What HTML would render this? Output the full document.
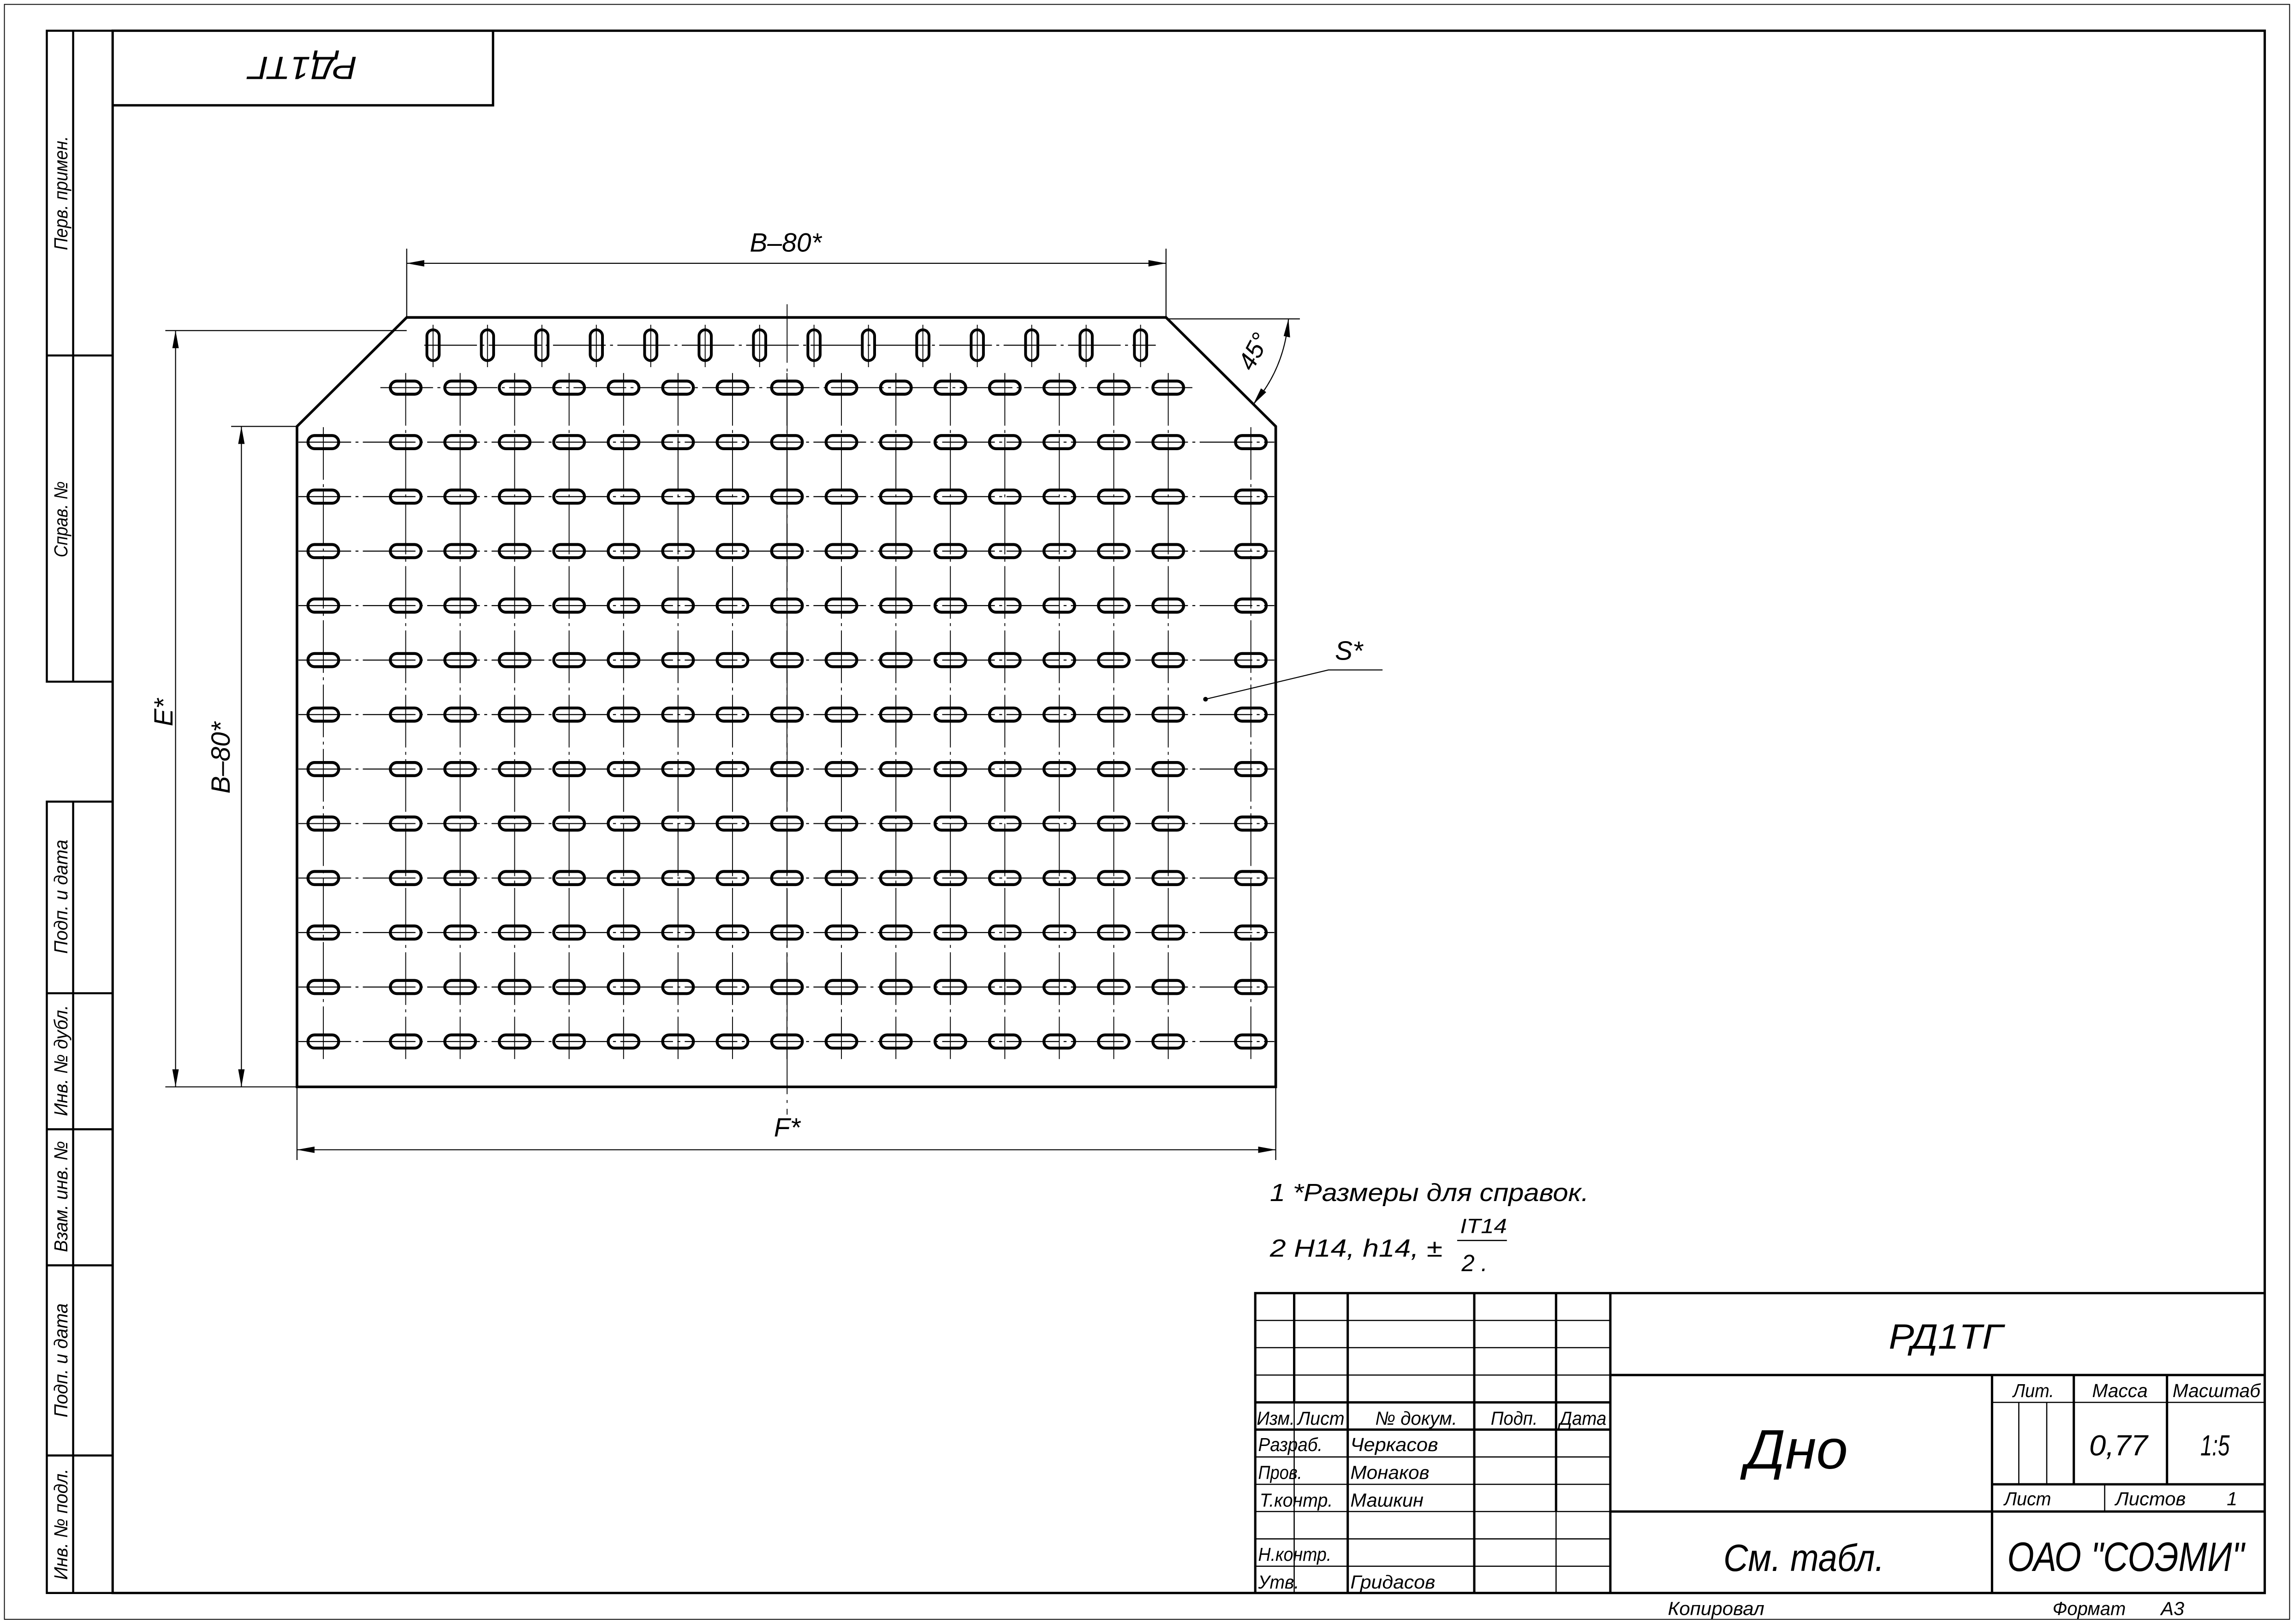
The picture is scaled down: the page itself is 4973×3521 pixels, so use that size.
<!DOCTYPE html>
<html><head><meta charset="utf-8">
<style>
html,body{margin:0;padding:0;background:#fff;}
svg{display:block;}
text{font-family:"Liberation Sans",sans-serif;font-style:italic;fill:#000;}
</style></head>
<body>
<svg id="s" xmlns="http://www.w3.org/2000/svg" width="4973" height="3521" viewBox="0 0 1568 1110.2" preserveAspectRatio="none">
<rect x="0" y="0" width="1568" height="1110.2" fill="#fff"/>
<g fill="none" stroke="#000">
<rect x="3" y="3" width="1562" height="1104" stroke-width="0.6"/>
<rect x="77" y="21" width="1471" height="1068" stroke-width="1.6"/>
<path d="M77 21 H32 V466 H77 M32 243 H77 M50 21 V466" stroke-width="1.4"/>
<path d="M77 548 H32 V1089 H77 M32 679 H77 M32 772 H77 M32 865 H77 M32 995 H77 M50 548 V1089" stroke-width="1.4"/>
<path d="M77 72 H337 V21" stroke-width="1.6"/>
<path d="M278 217 H797 L872 291.5 V743 H203 V291.5 Z" stroke-width="1.8"/>
<g stroke-width="0.7">
<path d="M278 217 V170 M797 217 V170 M278 180 H797"/>
<path d="M797 218 H888.5"/>
<path d="M278 226 H113 M203 743 H113 M120 226 V743"/>
<path d="M203 291.5 H158 M165 291.5 V743"/>
<path d="M203 743 V793 M872 743 V793 M203 786 H872"/>
<path d="M880.7 218 Q878 252 856.6 276.5"/>
<path d="M824 478 L908 458 H945"/>
</g>
<g stroke-width="1.6">
<path d="M858 1089 V884 H1548"/>
<path d="M884.6 884 V958.7 M921.2 884 V1089 M1007.7 884 V1089 M1063.6 884 V1033.3 M1100.7 884 V1089"/>
<path d="M858 958.7 H1100.7 M858 977.3 H1100.7"/>
<path d="M1100.7 940 H1548 M1361.6 940 V1089 M1417.5 940 V1014.7 M1481.2 940 V1014.7 M1361.6 1014.7 H1548 M1100.7 1033.3 H1548"/>
</g>
<g stroke-width="0.8">
<path d="M858 902.7 H1100.7 M858 921.3 H1100.7 M858 940 H1100.7 M858 996 H1100.7 M858 1014.7 H1100.7 M858 1033.3 H1100.7 M858 1052 H1100.7 M858 1070.7 H1100.7"/>
<path d="M884.6 958.7 V977.3 M884.6 977.3 V1089 M1063.6 1033.3 V1089"/>
<path d="M1361.6 958.7 H1548 M1379.9 958.7 V1014.7 M1399 958.7 V1014.7 M1438.6 1014.7 V1033.3"/>
</g>
<g id="holes"></g>
</g>
<g fill="#000">
<path d="M278 180 l12 -2.2 v4.4 Z"/>
<path d="M797 180 l-12 -2.2 v4.4 Z"/>
<path d="M120 226 l-2.2 12 h4.4 Z"/>
<path d="M120 743 l-2.2 -12 h4.4 Z"/>
<path d="M165 291.5 l-2.2 12 h4.4 Z"/>
<path d="M165 743 l-2.2 -12 h4.4 Z"/>
<path d="M203 786 l12 -2.2 v4.4 Z"/>
<path d="M872 786 l-12 -2.2 v4.4 Z"/>
<path d="M880.7 218 l-3.3 11.7 l4.4 1 Z"/>
<path d="M856.6 276.5 l5.3 -11 l3.6 2.6 Z"/>
<circle cx="824" cy="478" r="1.6"/>
</g>
<g>
<text x="207" y="47" font-size="22" text-anchor="middle" transform="rotate(180 207 47) translate(0 8)" textLength="74" lengthAdjust="spacingAndGlyphs">РД1ТГ</text>
<text x="537" y="172" font-size="18" text-anchor="middle">B–80*</text>
<text x="538" y="777" font-size="18" text-anchor="middle">F*</text>
<text x="922" y="451" font-size="18" text-anchor="middle">S*</text>
<text transform="translate(118 487) rotate(-90)" font-size="18" text-anchor="middle">E*</text>
<text transform="translate(157 518) rotate(-90)" font-size="18" text-anchor="middle">B–80*</text>
<text transform="translate(862 243) rotate(-62)" font-size="17" text-anchor="middle">45°</text>
<text x="868" y="821" font-size="17" textLength="218" lengthAdjust="spacingAndGlyphs">1  *Размеры для справок.</text>
<text x="868" y="859" font-size="17" textLength="118" lengthAdjust="spacingAndGlyphs">2  H14, h14, ±</text>
<text x="998" y="843" font-size="14" textLength="32" lengthAdjust="spacingAndGlyphs">IT14</text>
<line x1="996" y1="848" x2="1030" y2="848" stroke="#000" stroke-width="0.8"/>
<text x="999" y="869" font-size="16">2 .</text>
<g font-size="13">
<text transform="translate(46 132) rotate(-90)" text-anchor="middle" textLength="78" lengthAdjust="spacingAndGlyphs">Перв. примен.</text>
<text transform="translate(46 355) rotate(-90)" text-anchor="middle" textLength="52" lengthAdjust="spacingAndGlyphs">Справ. №</text>
<text transform="translate(46 613) rotate(-90)" text-anchor="middle" textLength="78" lengthAdjust="spacingAndGlyphs">Подп. и дата</text>
<text transform="translate(46 725) rotate(-90)" text-anchor="middle" textLength="76" lengthAdjust="spacingAndGlyphs">Инв. № дубл.</text>
<text transform="translate(46 818) rotate(-90)" text-anchor="middle" textLength="76" lengthAdjust="spacingAndGlyphs">Взам. инв. №</text>
<text transform="translate(46 930) rotate(-90)" text-anchor="middle" textLength="78" lengthAdjust="spacingAndGlyphs">Подп. и дата</text>
<text transform="translate(46 1042) rotate(-90)" text-anchor="middle" textLength="76" lengthAdjust="spacingAndGlyphs">Инв. № подл.</text>
</g>
<text x="1330" y="922" font-size="24" text-anchor="middle" textLength="78" lengthAdjust="spacingAndGlyphs">РД1ТГ</text>
<text x="1228" y="1004" font-size="38" text-anchor="middle" textLength="70" lengthAdjust="spacingAndGlyphs">Дно</text>
<text x="1233" y="1074" font-size="26" text-anchor="middle" textLength="110" lengthAdjust="spacingAndGlyphs">См. табл.</text>
<text x="1453" y="1074" font-size="28" text-anchor="middle" textLength="162" lengthAdjust="spacingAndGlyphs">ОАО "СОЭМИ"</text>
<text x="1448" y="995" font-size="20" text-anchor="middle" textLength="40" lengthAdjust="spacingAndGlyphs">0,77</text>
<text x="1514" y="995" font-size="20" text-anchor="middle" textLength="20" lengthAdjust="spacingAndGlyphs">1:5</text>
<g font-size="13">
<text x="1390" y="955" text-anchor="middle" textLength="28" lengthAdjust="spacingAndGlyphs">Лит.</text>
<text x="1449" y="955" text-anchor="middle" textLength="38" lengthAdjust="spacingAndGlyphs">Масса</text>
<text x="1515" y="955" text-anchor="middle" textLength="60" lengthAdjust="spacingAndGlyphs">Масштаб</text>
<text x="1370" y="1029" textLength="32" lengthAdjust="spacingAndGlyphs">Лист</text>
<text x="1446" y="1029" textLength="48" lengthAdjust="spacingAndGlyphs">Листов</text>
<text x="1522" y="1029">1</text>
<text x="859" y="974" textLength="26" lengthAdjust="spacingAndGlyphs">Изм.</text>
<text x="887" y="974" textLength="32" lengthAdjust="spacingAndGlyphs">Лист</text>
<text x="940" y="974" textLength="56" lengthAdjust="spacingAndGlyphs">№ докум.</text>
<text x="1019" y="974" textLength="32" lengthAdjust="spacingAndGlyphs">Подп.</text>
<text x="1066" y="974" textLength="32" lengthAdjust="spacingAndGlyphs">Дата</text>
<text x="860" y="992" textLength="44" lengthAdjust="spacingAndGlyphs">Разраб.</text>
<text x="923" y="992" textLength="60" lengthAdjust="spacingAndGlyphs">Черкасов</text>
<text x="860" y="1011" textLength="30" lengthAdjust="spacingAndGlyphs">Пров.</text>
<text x="923" y="1011" textLength="54" lengthAdjust="spacingAndGlyphs">Монаков</text>
<text x="861" y="1030" textLength="50" lengthAdjust="spacingAndGlyphs">Т.контр.</text>
<text x="923" y="1030" textLength="50" lengthAdjust="spacingAndGlyphs">Машкин</text>
<text x="860" y="1067" textLength="50" lengthAdjust="spacingAndGlyphs">Н.контр.</text>
<text x="860" y="1086" textLength="28" lengthAdjust="spacingAndGlyphs">Утв.</text>
<text x="923" y="1086" textLength="58" lengthAdjust="spacingAndGlyphs">Гридасов</text>
<text x="1140" y="1104" textLength="66" lengthAdjust="spacingAndGlyphs">Копировал</text>
<text x="1403" y="1104" textLength="50" lengthAdjust="spacingAndGlyphs">Формат</text>
<text x="1477" y="1104" textLength="16" lengthAdjust="spacingAndGlyphs">А3</text>
</g>
</g>
</svg>
<script>
(function(){
var g=document.getElementById('holes');var NS='http://www.w3.org/2000/svg';
function el(t,a){var e=document.createElementNS(NS,t);for(var k in a)e.setAttribute(k,a[k]);g.appendChild(e);return e;}
var dash='36 3 2 3';
var cols=[];for(var i=0;i<15;i++)cols.push(277.3+i*37.23);
var all=[221].concat(cols).concat([855]);
var rows=[];for(var j=0;j<13;j++)rows.push(265+j*37.25);
all.forEach(function(x,i){var y0=(i==0||i==16)?292:255;el('line',{x1:x,y1:y0,x2:x,y2:724,'stroke-width':0.6,'stroke-dasharray':dash});});
el('line',{x1:538,y1:208,x2:538,y2:762,'stroke-width':0.6,'stroke-dasharray':'40 4 2 4'});
rows.forEach(function(y,j){if(j==0)el('line',{x1:260,y1:y,x2:815,y2:y,'stroke-width':0.7,'stroke-dasharray':dash});else el('line',{x1:204,y1:y,x2:871,y2:y,'stroke-width':0.7,'stroke-dasharray':dash});});
el('line',{x1:290,y1:236,x2:790,y2:236,'stroke-width':0.7,'stroke-dasharray':dash});
for(var k=0;k<14;k++){var x=296+k*37.2;
el('line',{x1:x,y1:222,x2:x,y2:251,'stroke-width':0.6});
el('rect',{x:x-4.2,y:225.5,width:8.4,height:21,rx:4.2,ry:4.2,'stroke-width':1.9,fill:'none'});}
rows.forEach(function(y,j){var cs=(j==0)?cols:all;cs.forEach(function(x){
el('rect',{x:x-10.5,y:y-4.5,width:21,height:9,rx:4.5,ry:4.5,'stroke-width':2.0,fill:'none'});});});
})();
</script>
</body></html>
